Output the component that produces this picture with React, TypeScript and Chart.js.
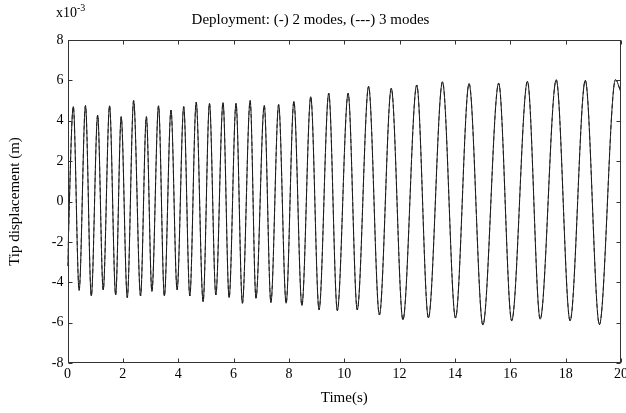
import React, { useEffect, useRef } from "react";
import { Chart, registerables } from "chart.js";

Chart.register(...registerables);

// Extrema (time in s, displacement in 1e-3 m)
const times = [
  0.0, 0.21, 0.42, 0.65, 0.86, 1.09, 1.29, 1.52, 1.74, 1.94, 2.16, 2.39, 2.64, 2.85,
  3.05, 3.29, 3.5, 3.74, 3.96, 4.2, 4.42, 4.65, 4.9, 5.13, 5.36, 5.62, 5.84, 6.09,
  6.32, 6.6, 6.81, 7.11, 7.35, 7.63, 7.9, 8.18, 8.47, 8.79, 9.09, 9.44, 9.75, 10.14,
  10.47, 10.88, 11.27, 11.7, 12.12, 12.62, 13.04, 13.55, 14.02, 14.51, 15.01, 15.58,
  16.05, 16.62, 17.08, 17.66, 18.16, 18.71, 19.22, 19.8, 20.0,
];
const twoModes = [
  -3.2, 4.7, -4.4, 4.75, -4.68, 4.28, -4.38, 4.74, -4.63, 4.2, -4.76, 5.0, -4.68, 4.2,
  -4.45, 4.74, -4.68, 4.53, -4.38, 4.7, -4.68, 4.92, -4.96, 4.86, -4.63, 4.9, -4.76, 4.86,
  -5.04, 5.0, -4.79, 4.76, -5.0, 4.8, -5.04, 4.96, -5.15, 5.19, -5.37, 5.36, -5.4, 5.36,
  -5.37, 5.7, -5.62, 5.61, -5.86, 5.77, -5.77, 5.93, -5.77, 5.84, -6.12, 5.86,
  -5.91, 5.95, -5.83, 6.03, -5.91, 6.0, -6.1, 6.03, 5.4,
];
const threeModes = [
  -3.2, 4.7, -4.4, 4.75, -4.68, 4.28, -4.38, 4.74, -4.63, 4.2, -4.76, 5.0, -4.68, 4.2,
  -4.45, 4.74, -4.68, 4.53, -4.38, 4.7, -4.68, 4.92, -4.96, 4.86, -4.63, 4.9, -4.76, 4.86,
  -5.04, 5.0, -4.79, 4.76, -5.0, 4.8, -5.04, 4.96, -5.15, 5.19, -5.37, 5.36, -5.4, 5.36,
  -5.37, 5.7, -5.62, 5.61, -5.86, 5.77, -5.77, 5.93, -5.77, 5.84, -6.12, 5.86,
  -5.91, 5.95, -5.83, 6.03, -5.91, 6.0, -6.1, 6.03, 5.4,
];
const xTicks = [0, 2, 4, 6, 8, 10, 12, 14, 16, 18, 20];
const yTicks = [-8, -6, -4, -2, 0, 2, 4, 6, 8];

const FONT = "'Liberation Serif', 'Times New Roman', serif";

const boxPlugin = {
  id: "matlabBox",
  afterDatasetsDraw(chart: any) {
    const { ctx, chartArea: a, scales } = chart;
    const x = scales.x;
    const y = scales.y;
    const L = Math.round(a.left) + 0.5;
    const R = Math.round(a.right) - 0.5;
    const T = Math.round(a.top) + 0.5;
    const B = Math.round(a.bottom) - 0.5;
    ctx.save();
    ctx.strokeStyle = "#333";
    ctx.lineWidth = 1;
    ctx.strokeRect(L, T, R - L, B - T);
    ctx.beginPath();
    const tl = 4;
    for (const v of xTicks) {
      const px = Math.round(x.getPixelForValue(v)) + 0.5;
      ctx.moveTo(px, B);
      ctx.lineTo(px, B - tl);
      ctx.moveTo(px, T);
      ctx.lineTo(px, T + tl);
    }
    for (const v of yTicks) {
      const py = Math.round(y.getPixelForValue(v)) + 0.5;
      ctx.moveTo(L, py);
      ctx.lineTo(L + tl, py);
      ctx.moveTo(R, py);
      ctx.lineTo(R - tl, py);
    }
    ctx.stroke();
    // exponent label
    ctx.fillStyle = "#000";
    ctx.textBaseline = "alphabetic";
    ctx.textAlign = "left";
    ctx.font = `14px ${FONT}`;
    ctx.fillText("x10", 56, 17);
    const w = ctx.measureText("x10").width;
    ctx.font = `10px ${FONT}`;
    ctx.fillText("-3", 56 + w, 11);
    ctx.restore();
  },
};

export default function App() {
  const ref = useRef<HTMLCanvasElement | null>(null);
  useEffect(() => {
    if (!ref.current) return;
    const chart = new Chart(ref.current, {
      type: "line",
      data: {
        datasets: [
          {
            label: "2 modes",
            data: times.map((t, i) => ({ x: t, y: twoModes[i] })),
            borderColor: "#1a1a1a",
            borderWidth: 1,
            pointRadius: 0,
            cubicInterpolationMode: "monotone",
            fill: false,
          },
          {
            label: "3 modes",
            data: times.map((t, i) => ({ x: t, y: threeModes[i] })),
            borderColor: "#3a3a3a",
            borderWidth: 1,
            borderDash: [4, 3],
            pointRadius: 0,
            cubicInterpolationMode: "monotone",
            fill: false,
          },
        ],
      },
      options: {
        animation: false,
        responsive: true,
        maintainAspectRatio: false,
        layout: { padding: { top: 0, right: 5, bottom: 0, left: 0 } },
        plugins: {
          legend: { display: false },
          tooltip: { enabled: false },
          title: {
            display: true,
            text: "Deployment: (-) 2 modes, (---) 3 modes",
            color: "#000",
            font: { family: FONT, size: 15, weight: "normal", lineHeight: 1.2 },
            padding: { top: 11, bottom: 11 },
          },
        },
        scales: {
          x: {
            type: "linear",
            min: 0,
            max: 20,
            afterBuildTicks: (s: any) => {
              s.ticks = xTicks.map((v) => ({ value: v }));
            },
            afterFit: (s: any) => {
              s.height = 50;
              s.paddingLeft = 0;
              s.paddingRight = 0;
            },
            ticks: {
              color: "#000",
              font: { family: FONT, size: 14 },
              padding: 3,
              maxRotation: 0,
              autoSkip: false,
            },
            grid: { display: false, drawTicks: false },
            border: { display: false },
            title: {
              display: true,
              text: "Time(s)",
              color: "#000",
              font: { family: FONT, size: 15, lineHeight: 1.2 },
              padding: { top: 0, bottom: 6 },
            },
          },
          y: {
            type: "linear",
            min: -8,
            max: 8,
            afterBuildTicks: (s: any) => {
              s.ticks = yTicks.map((v) => ({ value: v }));
            },
            afterFit: (s: any) => {
              s.width = 67.5;
              s.paddingTop = 0;
              s.paddingBottom = 0;
            },
            ticks: {
              color: "#000",
              font: { family: FONT, size: 14 },
              padding: 4,
              autoSkip: false,
            },
            grid: { display: false, drawTicks: false },
            border: { display: false },
            title: {
              display: true,
              text: "Tip displacement (m)",
              color: "#000",
              font: { family: FONT, size: 15, lineHeight: 1.2 },
              padding: { top: 6, bottom: 0 },
            },
          },
        },
      },
      plugins: [boxPlugin],
    });
    return () => chart.destroy();
  }, []);
  return (
    <div style={{ position: "absolute", left: 0, top: 0, width: 626, height: 413, background: "#fff" }}>
      <canvas ref={ref} />
    </div>
  );
}
